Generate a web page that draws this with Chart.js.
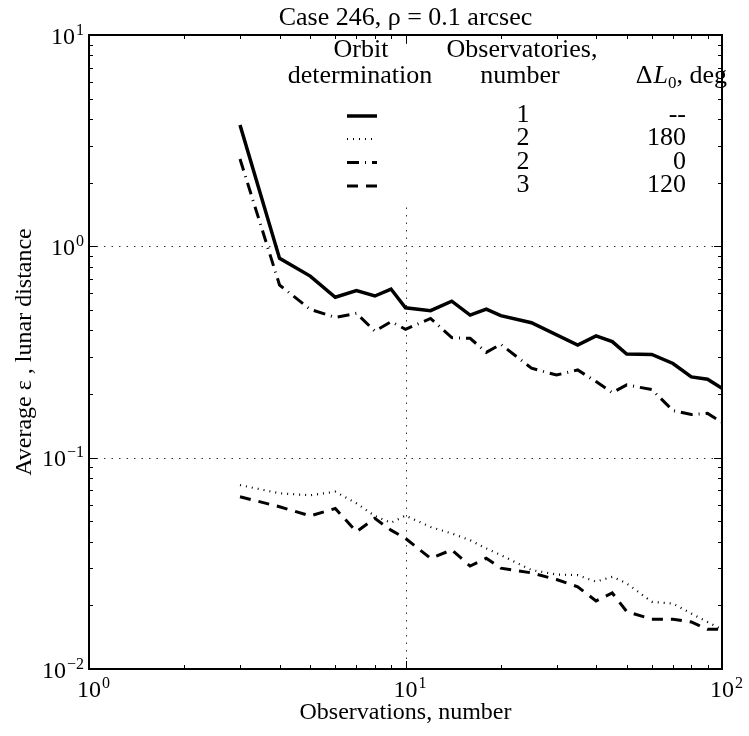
<!DOCTYPE html>
<html>
<head>
<meta charset="utf-8">
<title>Case 246</title>
<script src="https://cdn.jsdelivr.net/npm/chart.js@4.4.0/dist/chart.umd.min.js"></script>
<style>
  body { margin: 0; background: #fff; }
  canvas { display: block; }
</style>
</head>
<body>
<canvas id="chart" width="749" height="736"></canvas>
<script>
// observations count (x) for each curve
const obsOne   = [3, 4, 5, 6, 7, 8, 9, 10, 12, 14, 16, 18, 20, 25, 35, 40, 45, 50, 60, 70, 80, 90, 100];
const obsMulti = [3, 4, 5, 6, 7, 8, 9, 10, 12, 14, 16, 18, 20, 25, 30, 35, 40, 45, 50, 60, 70, 80, 90, 100];

// average epsilon, lunar distances
const oneSite = [3.75, 0.877, 0.723, 0.574, 0.617, 0.582, 0.628, 0.512, 0.496, 0.55, 0.473, 0.505, 0.47,
                 0.435, 0.341, 0.377, 0.354, 0.309, 0.308, 0.279, 0.241, 0.235, 0.213];
const twoSites180 = [0.0742, 0.0678, 0.0664, 0.069, 0.0608, 0.053, 0.0492, 0.0532, 0.047, 0.0438, 0.0407, 0.0372,
                     0.0346, 0.0294, 0.028, 0.0278, 0.0259, 0.0273, 0.0254, 0.0208, 0.0204, 0.0183, 0.0167, 0.0154];
const twoSites0 = [2.59, 0.656, 0.503, 0.461, 0.482, 0.397, 0.44, 0.405, 0.456, 0.37, 0.367, 0.315,
                   0.344, 0.265, 0.246, 0.26, 0.229, 0.203, 0.221, 0.21, 0.167, 0.16, 0.162, 0.147];
const threeSites = [0.0653, 0.0586, 0.053, 0.0575, 0.0446, 0.0516, 0.0454, 0.0415, 0.0334, 0.0366, 0.0307, 0.0334,
                    0.030, 0.0285, 0.0265, 0.0245, 0.021, 0.0229, 0.0187, 0.0172, 0.0172, 0.0167, 0.0154, 0.0154];

// legend table columns
const siteCounts = ['1', '2', '2', '3'];
const deltaL0 = ['--', '180', '0', '120'];

// axes decades and their exponents
const xDecades = [1, 10, 100];
const xExponents = ['0', '1', '2'];
const yDecades = [0.01, 0.1, 1, 10];
const yExponents = ['\u22122', '\u22121', '0', '1'];

const FONT = '"Liberation Serif", "Times New Roman", serif';

function pts(xs, ys) {
  return xs.map((v, i) => ({ x: v, y: ys[i] }));
}

function drawPow(ctx, exp, x, y, align) {
  ctx.font = '24px ' + FONT;
  const wb = ctx.measureText('10').width;
  ctx.font = '16px ' + FONT;
  const we = ctx.measureText(exp).width;
  const x0 = align === 'right' ? x - wb - we - 1 : x - wb / 2;
  ctx.textAlign = 'left';
  ctx.font = '24px ' + FONT;
  ctx.fillText('10', x0, y);
  ctx.font = '16px ' + FONT;
  ctx.fillText(exp, x0 + wb + 1, y - 9);
}

function seg(ctx, x1, y1, x2, y2) {
  ctx.beginPath();
  ctx.moveTo(x1, y1);
  ctx.lineTo(x2, y2);
  ctx.stroke();
}

const decor = {
  id: 'decor',
  beforeDatasetsDraw(chart) {
    const { ctx, chartArea: a, scales: { x, y } } = chart;
    ctx.save();
    ctx.strokeStyle = '#333';
    ctx.lineWidth = 1;
    ctx.setLineDash([1.5, 6]);
    xDecades.slice(1, -1).forEach(v => {
      const px = Math.round(x.getPixelForValue(v)) + 0.5;
      seg(ctx, px, a.top, px, a.bottom);
    });
    yDecades.slice(1, -1).forEach(v => {
      const py = Math.round(y.getPixelForValue(v)) + 0.5;
      seg(ctx, a.left, py, a.right, py);
    });
    ctx.restore();
    // white backing under the legend table
    ctx.fillStyle = '#fff';
    ctx.fillRect(282, 44, 436, 160);
  },
  afterDatasetsDraw(chart) {
    const { ctx, chartArea: a, scales: { x, y } } = chart;
    ctx.save();
    ctx.strokeStyle = '#000';
    ctx.fillStyle = '#000';
    ctx.setLineDash([]);

    // tick marks inside the box, all four sides
    ctx.lineWidth = 1;
    for (let d = 0; d < xDecades.length; d++) {
      for (let k = 1; k <= 9; k++) {
        const v = xDecades[d] * k;
        if (v > xDecades[xDecades.length - 1]) break;
        const len = k === 1 ? 8 : 4;
        const px = Math.round(x.getPixelForValue(v)) + 0.5;
        seg(ctx, px, a.bottom, px, a.bottom - len);
        seg(ctx, px, a.top, px, a.top + len);
      }
    }
    for (let d = 0; d < yDecades.length; d++) {
      for (let k = 1; k <= 9; k++) {
        const v = yDecades[d] * k;
        if (v > yDecades[yDecades.length - 1] * 1.0001) break;
        const len = k === 1 ? 8 : 4;
        const py = Math.round(y.getPixelForValue(v)) + 0.5;
        seg(ctx, a.left, py, a.left + len, py);
        seg(ctx, a.right, py, a.right - len, py);
      }
    }

    // box
    ctx.lineWidth = 2;
    ctx.strokeRect(a.left, a.top, a.right - a.left, a.bottom - a.top);

    // tick labels
    ctx.textBaseline = 'alphabetic';
    xDecades.forEach((v, i) => drawPow(ctx, xExponents[i], x.getPixelForValue(v), a.bottom + 28, 'center'));
    yDecades.forEach((v, i) => drawPow(ctx, yExponents[i], a.left - 5, y.getPixelForValue(v) + 8.5, 'right'));

    // title and axis titles
    ctx.textAlign = 'center';
    ctx.font = '26px ' + FONT;
    ctx.fillText('Case 246, \u03c1 = 0.1 arcsec', (a.left + a.right) / 2, 25);
    ctx.font = '24px ' + FONT;
    ctx.fillText('Observations, number', (a.left + a.right) / 2, 719);
    ctx.save();
    ctx.translate(31, (a.top + a.bottom) / 2);
    ctx.rotate(-Math.PI / 2);
    ctx.fillText('Average \u03b5 , lunar distance', 0, 0);
    ctx.restore();

    // legend table
    const LF = '26px ' + FONT;
    ctx.font = LF;
    ctx.textAlign = 'center';
    ctx.fillText('Orbit', 361, 57);
    ctx.fillText('determination', 360, 83);
    ctx.fillText('Observatories,', 522, 57);
    ctx.fillText('number', 520, 83);

    // ΔL0, deg header, right aligned
    const right = 727;
    ctx.textAlign = 'left';
    ctx.font = LF;
    const wTail = ctx.measureText(', deg').width;
    const wDelta = ctx.measureText('\u0394').width;
    ctx.font = '17px ' + FONT;
    const wSub = ctx.measureText('0').width;
    ctx.font = 'italic ' + LF;
    const wL = ctx.measureText('L').width;
    let hx = right - wTail - wSub - wL - wDelta - 1;
    ctx.font = LF;
    ctx.fillText('\u0394', hx, 83);
    hx += wDelta + 1;
    ctx.font = 'italic ' + LF;
    ctx.fillText('L', hx, 83);
    hx += wL;
    ctx.font = '17px ' + FONT;
    ctx.fillText('0', hx, 88);
    hx += wSub;
    ctx.font = LF;
    ctx.fillText(', deg', hx, 83);

    const rowY = [116, 139, 162.5, 186];
    chart.data.datasets.forEach((ds, i) => {
      ctx.save();
      ctx.lineWidth = ds.borderWidth;
      ctx.setLineDash(ds.borderDash || []);
      ctx.lineCap = 'butt';
      seg(ctx, 347, rowY[i], 377, rowY[i]);
      ctx.restore();
      ctx.font = LF;
      ctx.textAlign = 'center';
      ctx.fillText(siteCounts[i], 523, rowY[i] + 6);
      ctx.textAlign = 'right';
      ctx.fillText(deltaL0[i], 686, rowY[i] + 6);
    });
    ctx.restore();
  }
};

const line = (data, width, dash) => ({
  data,
  borderColor: '#000',
  borderWidth: width,
  borderDash: dash,
  pointRadius: 0,
  tension: 0,
  fill: false
});

new Chart(document.getElementById('chart'), {
  type: 'line',
  data: {
    datasets: [
      line(pts(obsOne, oneSite), 3.5, []),
      line(pts(obsMulti, twoSites180), 2.2, [1, 5]),
      line(pts(obsMulti, twoSites0), 3, [12, 6, 1, 6]),
      line(pts(obsMulti, threeSites), 3, [11, 8])
    ]
  },
  options: {
    responsive: false,
    animation: false,
    events: [],
    layout: { padding: { left: 89, right: 27, top: 35, bottom: 67 } },
    plugins: { legend: { display: false }, tooltip: { enabled: false }, title: { display: false } },
    scales: {
      x: { type: 'logarithmic', min: 1, max: 100, display: false },
      y: { type: 'logarithmic', min: 0.01, max: 10, display: false }
    }
  },
  plugins: [decor]
});
</script>
</body>
</html>
